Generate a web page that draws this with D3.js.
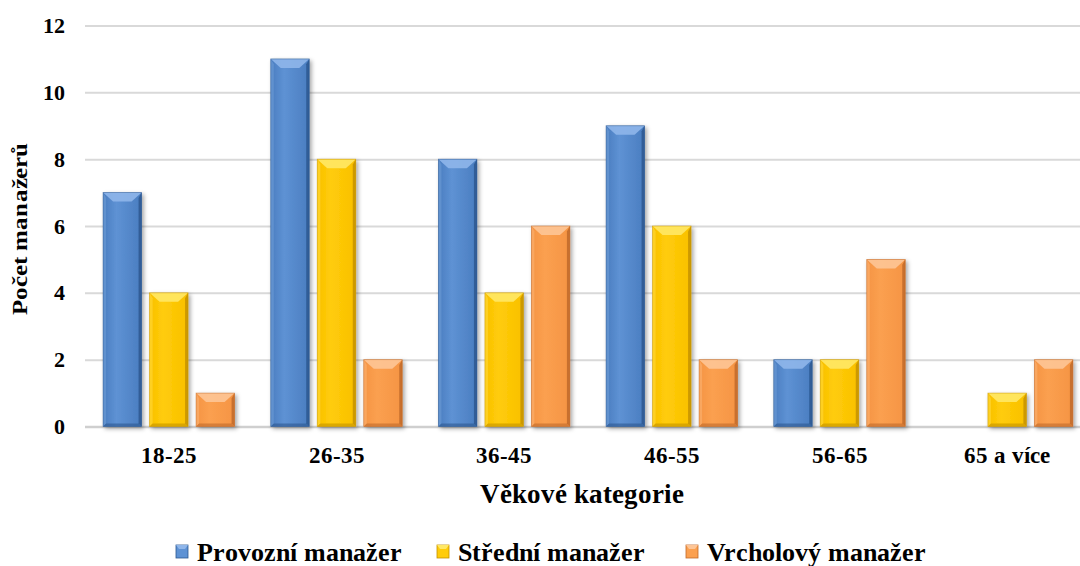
<!DOCTYPE html>
<html>
<head>
<meta charset="utf-8">
<script src="https://cdn.jsdelivr.net/npm/d3@7"></script>
<style>
  @font-face { font-family: "LabelSerif"; font-weight: bold;
    src: local("Liberation Serif Bold"), local("LiberationSerif-Bold"), local("Times New Roman Bold"); }
  @font-face { font-family: "LabelSerif"; font-weight: normal;
    src: local("Liberation Serif"), local("LiberationSerif"), local("Times New Roman"); }
</style>
</head>
<body style="margin:0;background:#ffffff">
<svg id="fig" width="1080" height="566" style="display:block"></svg>
<script>
// Age groups and manager counts per level
const categories = ["18-25", "26-35", "36-45", "46-55", "56-65", "65 a více"];
const seriesNames = ["Provozní manažer", "Střední manažer", "Vrcholový manažer"];
const provozni = [7, 11, 8, 9, 2, 0];
const stredni = [4, 8, 4, 6, 2, 1];
const vrcholovy = [1, 2, 6, 2, 5, 2];
const yTicks = [0, 2, 4, 6, 8, 10, 12];
const yLabel = "Počet manažerů";
const xLabel = "Věkové kategorie";

const seriesValues = [provozni, stredni, vrcholovy];
const FONT = '"LabelSerif", "Liberation Serif", "Times New Roman", serif';

// Colour ramps for each series: base, light (top bevel), dark (right/bottom bevel)
const palette = [
  { base: "#4a7dc0", mid: "#5e92d4", light: "#8fb6ea", side: "#6a98d3", dark: "#2c578f" },
  { base: "#f9c000", mid: "#ffcc0a", light: "#ffe866", side: "#ffd633", dark: "#c49200" },
  { base: "#f59443", mid: "#fba050", light: "#fdc596", side: "#fbae6c", dark: "#c0692a" }
];

const svg = d3.select("#fig");
const W = 1080;
const plotLeft = 85, plotRight = 1091, plotTop = 25.5, plotBottom = 426.5;

const x0 = d3.scaleBand().domain(categories).range([plotLeft, plotRight]).padding(0);
const x1 = d3.scaleBand().domain(seriesNames).range([0, x0.bandwidth()])
  .paddingInner(0.172).paddingOuter(0.389);
const y = d3.scaleLinear().domain([0, 12]).range([plotBottom, plotTop]);

function styleLabel(sel, size) {
  return sel.attr("font-family", FONT).attr("font-weight", "bold").attr("font-size", size)
    .style("font-family", FONT, "important").attr("fill", "#000");
}

const defs = svg.append("defs");
const shadow = defs.append("filter").attr("id", "barShadow")
  .attr("x", "-20%").attr("y", "-10%").attr("width", "150%").attr("height", "130%");
shadow.append("feDropShadow").attr("dx", 2).attr("dy", 2).attr("stdDeviation", 2)
  .attr("flood-color", "#000").attr("flood-opacity", 0.35);

palette.forEach((c, i) => {
  const g = defs.append("linearGradient").attr("id", "body" + i)
    .attr("x1", "0").attr("x2", "1").attr("y1", "0").attr("y2", "0");
  g.append("stop").attr("offset", "0").attr("stop-color", c.base);
  g.append("stop").attr("offset", "0.35").attr("stop-color", c.mid);
  g.append("stop").attr("offset", "1").attr("stop-color", c.base);
});

// Y axis with full-width gridlines
const yAxis = svg.append("g").attr("transform", `translate(${plotLeft},0)`)
  .call(d3.axisLeft(y).tickValues(yTicks).tickSize(-(W - plotLeft)).tickPadding(20))
  .attr("font-family", FONT);
yAxis.select(".domain").remove();
yAxis.selectAll(".tick line").attr("stroke", "#d9d9d9").attr("stroke-width", 2);
styleLabel(yAxis.selectAll(".tick text"), 22);
yAxis.selectAll(".tick").filter(d => d === 0).select("line")
  .attr("stroke", "#cfcfcf").attr("stroke-width", 2.5);

// X axis labels
const xAxis = svg.append("g").attr("transform", `translate(0,${plotBottom})`)
  .call(d3.axisBottom(x0).tickSize(0).tickPadding(20))
  .attr("font-family", FONT);
xAxis.select(".domain").remove();
styleLabel(xAxis.selectAll(".tick text"), 23);

// Bars with a bevelled look
function drawBevelBar(g, x, yTop, w, h, c, idx) {
  const b = g.append("g").attr("filter", "url(#barShadow)");
  b.append("rect").attr("x", x).attr("y", yTop).attr("width", w).attr("height", h)
    .attr("fill", `url(#body${idx})`);
  const tb = Math.min(9, h / 2), sb = Math.min(3, w / 2), bb = Math.min(3, h / 3);
  const x2 = x + w, y2 = yTop + h;
  // top face
  b.append("polygon").attr("points",
    [[x, yTop], [x2, yTop], [x2 - sb - 7, yTop + tb], [x + sb + 7, yTop + tb]].join(" "))
    .attr("fill", c.light).attr("opacity", 0.9);
  // left edge
  b.append("polygon").attr("points",
    [[x, yTop], [x + sb, yTop + tb * 0.6], [x + sb, y2 - bb], [x, y2]].join(" "))
    .attr("fill", c.side).attr("opacity", 0.7);
  // right edge
  b.append("polygon").attr("points",
    [[x2, yTop], [x2, y2], [x2 - sb, y2 - bb], [x2 - sb, yTop + tb * 0.6]].join(" "))
    .attr("fill", c.dark).attr("opacity", 0.85);
  // bottom edge
  b.append("polygon").attr("points",
    [[x, y2], [x2, y2], [x2 - sb, y2 - bb], [x + sb, y2 - bb]].join(" "))
    .attr("fill", c.dark).attr("opacity", 0.6);
  b.append("rect").attr("x", x).attr("y", yTop).attr("width", w).attr("height", h)
    .attr("fill", "none").attr("stroke", c.dark).attr("stroke-width", 0.8).attr("stroke-opacity", 0.6);
}

const groups = svg.append("g").selectAll("g").data(categories).join("g")
  .attr("transform", d => `translate(${x0(d)},0)`);

groups.each(function (cat, ci) {
  const g = d3.select(this);
  seriesNames.forEach((s, si) => {
    const v = seriesValues[si][ci];
    if (v <= 0) return;
    drawBevelBar(g, x1(s), y(v), x1.bandwidth(), y(0) - y(v), palette[si], si);
  });
});

// Axis titles
styleLabel(svg.append("text")
  .attr("transform", "translate(27,229) rotate(-90)")
  .attr("text-anchor", "middle")
  .attr("textLength", 172).attr("lengthAdjust", "spacingAndGlyphs")
  .text(yLabel), 21);

styleLabel(svg.append("text").attr("x", 582).attr("y", 503)
  .attr("text-anchor", "middle")
  .text(xLabel), 27);

// Legend
const legendX = [176, 437, 686];
const legend = svg.append("g").selectAll("g").data(seriesNames).join("g")
  .attr("transform", (d, i) => `translate(${legendX[i]},0)`);
legend.each(function (s, i) {
  const g = d3.select(this);
  const c = palette[i];
  g.append("rect").attr("x", 0).attr("y", 545).attr("width", 12).attr("height", 13)
    .attr("fill", c.mid).attr("stroke", c.dark).attr("stroke-width", 0.8);
  g.append("polygon").attr("points", [[0, 545], [12, 545], [9, 549], [3, 549]].join(" "))
    .attr("fill", c.light);
  styleLabel(g.append("text").attr("x", 21).attr("y", 561).text(s), 26);
});
</script>
</body>
</html>
